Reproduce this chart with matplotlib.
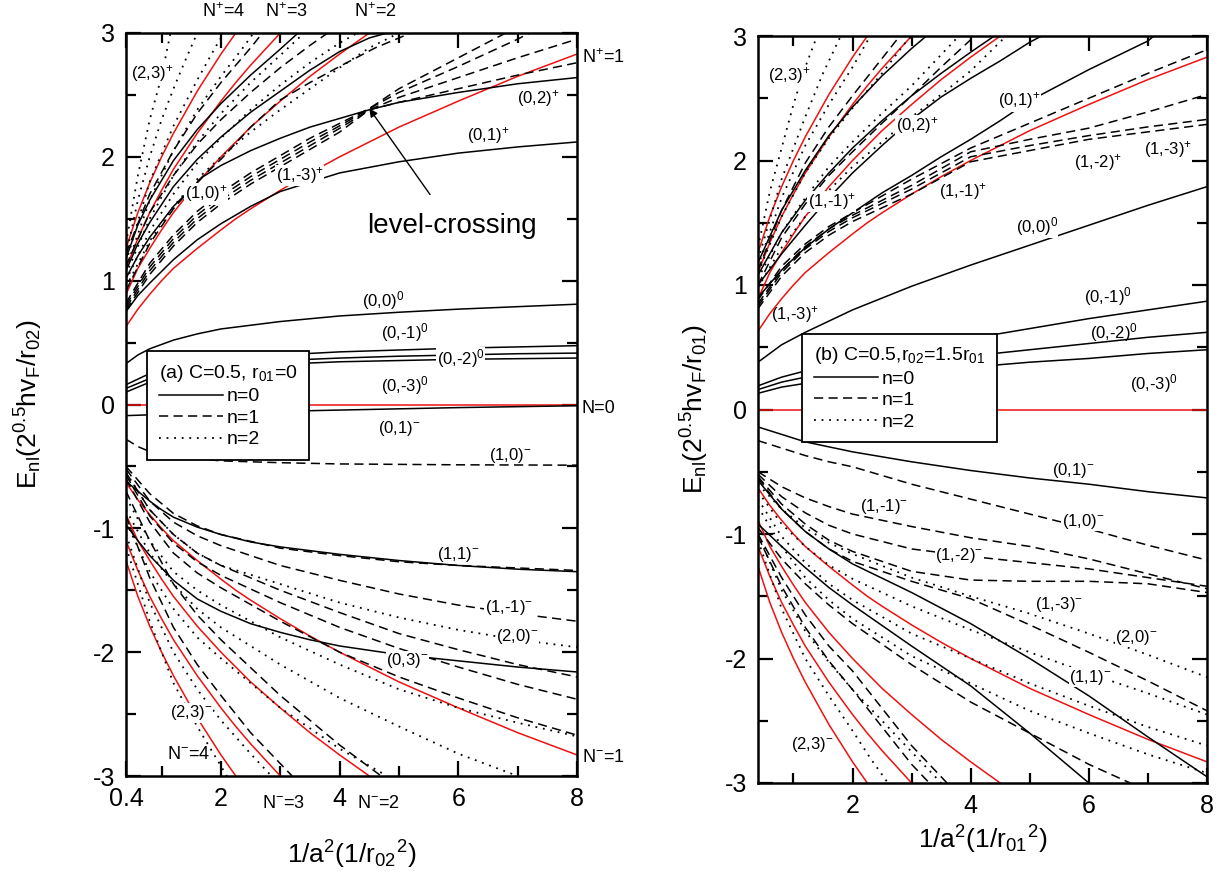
import matplotlib
matplotlib.use('Agg')
import matplotlib.pyplot as plt
from matplotlib.lines import Line2D
from matplotlib.ticker import FixedLocator

plt.rcParams['font.family'] = ['Liberation Sans', 'DejaVu Sans']
plt.rcParams['mathtext.fontset'] = 'custom'
plt.rcParams['mathtext.rm'] = 'Liberation Sans'
plt.rcParams['mathtext.it'] = 'Liberation Sans'
plt.rcParams['mathtext.default'] = 'regular'
plt.rcParams['axes.unicode_minus'] = False

# ---------------- Panel (a) data ----------------
# Landau levels (red)
A_red_x = [0.4, 0.6, 0.8, 1.0, 1.2, 1.6, 2.0, 2.25, 2.5, 3.0, 3.5, 4.0, 4.5, 5.0, 6.0, 7.0, 8.0]
A_red_N1 = [0.63, 0.77, 0.89, 1.0, 1.10, 1.26, 1.41, 1.50, 1.58, 1.73, 1.87, 2.0, 2.12, 2.24, 2.45, 2.65, 2.83]
A_red_N2 = [0.89, 1.10, 1.26, 1.41, 1.55, 1.79, 2.0, 2.12, 2.24, 2.45, 2.65, 2.83, 3.0]
A_red_N3 = [1.10, 1.34, 1.55, 1.73, 1.90, 2.19, 2.45, 2.60, 2.74, 3.0]
A_red_N4 = [1.26, 1.55, 1.79, 2.0, 2.19, 2.53, 2.83, 3.0]

# n = 0 (solid)
A_s00_x = [0.4, 0.6, 0.8, 1.2, 1.6, 2, 3, 4, 5, 6, 7, 8]
A_s00_y = [0.33, 0.40, 0.45, 0.52, 0.57, 0.61, 0.67, 0.715, 0.745, 0.77, 0.79, 0.81]
A_s0m_x = [0.4, 0.8, 1.2, 2, 3, 4, 5, 6, 7, 8]
A_s0m1_y = [0.16, 0.25, 0.30, 0.36, 0.40, 0.425, 0.44, 0.455, 0.465, 0.475]
A_s0m2_y = [0.13, 0.21, 0.26, 0.32, 0.355, 0.375, 0.39, 0.40, 0.41, 0.415]
A_s0m3_y = [0.10, 0.18, 0.23, 0.29, 0.325, 0.345, 0.355, 0.365, 0.37, 0.375]
A_s01m_x = [0.4, 1, 2, 4, 6, 8]
A_s01m_y = [-0.09, -0.08, -0.065, -0.045, -0.025, -0.01]
A_s11m_x = [0.4, 0.6, 0.8, 1.0, 1.2, 1.6, 2, 2.5, 3, 4, 5, 6, 7, 8]
A_s11m_y = [-0.62, -0.70, -0.78, -0.85, -0.91, -0.99, -1.05, -1.11, -1.15, -1.21, -1.26, -1.30, -1.33, -1.35]
A_s03m_x = [0.4, 0.6, 0.8, 1.0, 1.2, 1.6, 2, 2.5, 3, 3.5, 4, 5, 6, 7, 8]
A_s03m_y = [-0.97, -1.10, -1.22, -1.32, -1.42, -1.57, -1.67, -1.77, -1.84, -1.90, -1.95, -2.02, -2.07, -2.12, -2.16]
A_s01p_x = [0.4, 0.6, 0.8, 1.2, 1.6, 2, 2.5, 3, 4, 5, 6, 7, 8]
A_s01p_y = [0.75, 0.88, 0.98, 1.17, 1.33, 1.46, 1.60, 1.72, 1.87, 1.96, 2.03, 2.08, 2.12]
A_s02p_x = [0.4, 0.6, 0.8, 1.2, 1.7, 2, 2.5, 3, 3.5, 4, 4.5, 5, 6, 7, 8]
A_s02p_y = [1.02, 1.20, 1.35, 1.60, 1.84, 1.93, 2.05, 2.15, 2.24, 2.31, 2.38, 2.44, 2.52, 2.59, 2.64]
A_s03p_x = [0.4, 0.6, 0.8, 1.2, 1.6, 2, 2.5, 3, 3.5, 4, 4.5, 4.8]
A_s03p_y = [1.08, 1.30, 1.47, 1.76, 1.98, 2.16, 2.36, 2.53, 2.70, 2.85, 2.96, 3.0]
A_s04p_x = [0.4, 0.6, 0.8, 1.2, 1.6, 2, 2.5, 3, 3.3]
A_s04p_y = [1.18, 1.45, 1.65, 1.97, 2.22, 2.43, 2.66, 2.87, 3.0]

# n = 1 (dashed)
A_dxg = [0.4, 0.8, 1.2, 1.6, 2, 2.5, 3, 3.5, 4, 4.5, 5, 6, 7, 8]
A_d1_y = [0.76, 1.05, 1.28, 1.47, 1.62, 1.78, 1.92, 2.06, 2.20, 2.38, 2.44, 2.55, 2.66, 2.76]
A_d2_y = [0.78, 1.08, 1.31, 1.50, 1.65, 1.81, 1.95, 2.09, 2.23, 2.38, 2.48, 2.64, 2.80, 2.95]
A_d3_x = [0.4, 0.8, 1.2, 1.6, 2, 2.5, 3, 3.5, 4, 4.5, 5, 6, 7, 7.2]
A_d3_y = [0.80, 1.11, 1.34, 1.53, 1.68, 1.84, 1.98, 2.12, 2.25, 2.39, 2.52, 2.73, 2.95, 3.0]
A_d4_x = [0.4, 0.8, 1.2, 1.6, 2, 2.5, 3, 3.5, 4, 4.5, 5, 6, 6.8]
A_d4_y = [0.82, 1.14, 1.37, 1.56, 1.71, 1.87, 2.01, 2.15, 2.27, 2.39, 2.55, 2.80, 3.0]
A_d5_x = [0.4, 0.8, 1.2, 1.6, 2, 2.5, 3, 3.5, 4, 4.6, 5.2]
A_d5_y = [0.92, 1.30, 1.58, 1.80, 1.98, 2.24, 2.46, 2.60, 2.73, 2.88, 3.0]
A_d6_x = [0.4, 0.8, 1.2, 1.6, 2, 2.5, 3, 3.5, 3.8]
A_d6_y = [1.12, 1.55, 1.85, 2.10, 2.30, 2.52, 2.72, 2.90, 3.0]
A_d7_x = [0.4, 0.8, 1.2, 1.6, 2, 2.5, 2.7]
A_d7_y = [1.22, 1.70, 2.05, 2.35, 2.60, 2.88, 3.0]
A_dn_x = [0.4, 0.8, 1.2, 1.6, 2, 3, 4, 5, 6, 7, 8]
A_dn1_y = [-0.50, -0.72, -0.88, -0.98, -1.05, -1.16, -1.22, -1.27, -1.30, -1.32, -1.34]
A_dn2_y = [-0.52, -0.78, -0.95, -1.06, -1.14, -1.30, -1.42, -1.53, -1.62, -1.69, -1.75]
A_dn3_y = [-0.55, -0.85, -1.05, -1.20, -1.30, -1.50, -1.68, -1.85, -1.98, -2.10, -2.20]
A_dn4_y = [-0.57, -0.90, -1.12, -1.27, -1.38, -1.60, -1.80, -1.97, -2.12, -2.26, -2.38]
A_dn5_y = [-0.60, -0.95, -1.20, -1.36, -1.48, -1.75, -2.00, -2.20, -2.37, -2.53, -2.67]
A_dn6_x = [0.4, 0.8, 1.2, 1.6, 2, 3, 4, 4.7]
A_dn6_y = [-0.70, -1.10, -1.45, -1.70, -1.90, -2.35, -2.75, -3.0]
A_dn7_x = [0.4, 0.8, 1.2, 1.6, 2, 2.5, 3.2]
A_dn7_y = [-0.90, -1.40, -1.80, -2.10, -2.35, -2.65, -3.0]
A_d10_x = [0.4, 0.6, 0.8, 1.2, 2, 3, 4, 6, 8]
A_d10_y = [-0.28, -0.34, -0.38, -0.42, -0.455, -0.47, -0.48, -0.487, -0.49]

# n = 2 (dotted)
A_t1_x = [0.4, 0.8, 1.2, 1.6, 2, 2.5, 3, 3.5, 4, 4.3]
A_t1_y = [1.00, 1.40, 1.70, 1.95, 2.15, 2.38, 2.58, 2.76, 2.92, 3.0]
A_t2_x = [0.4, 0.8, 1.2, 1.6, 2, 2.5, 3, 3.4]
A_t2_y = [1.05, 1.50, 1.85, 2.12, 2.35, 2.60, 2.82, 3.0]
A_t3_x = [0.4, 0.8, 1.2, 1.6, 2, 2.4, 2.55]
A_t3_y = [1.10, 1.65, 2.05, 2.38, 2.65, 2.90, 3.0]
A_t4_x = [0.4, 0.8, 1.2, 1.6, 1.9, 2.05]
A_t4_y = [1.15, 1.80, 2.25, 2.62, 2.88, 3.0]
A_t5_x = [0.4, 0.6, 0.8, 1.0, 1.2, 1.4, 1.6]
A_t5_y = [1.20, 1.65, 2.00, 2.30, 2.55, 2.78, 3.0]
A_t6_x = [0.4, 0.6, 0.8, 1.0, 1.15]
A_t6_y = [1.30, 1.85, 2.30, 2.65, 3.0]
A_t7_x = [0.4, 0.8, 1.2, 1.6, 2, 2.5, 3, 3.5, 4, 4.5, 5]
A_t7_y = [0.95, 1.32, 1.60, 1.82, 2.00, 2.20, 2.38, 2.55, 2.72, 2.88, 3.0]
A_tn1_y = [-0.55, -0.85, -1.05, -1.20, -1.30, -1.45, -1.60, -1.72, -1.82, -1.90, -1.96]
A_tn2_y = [-0.75, -1.10, -1.35, -1.50, -1.62, -1.88, -2.10, -2.30, -2.45, -2.57, -2.68]
A_tn3_x = [0.4, 0.8, 1.2, 1.6, 2, 3, 4, 5, 6, 7]
A_tn3_y = [-0.85, -1.20, -1.45, -1.65, -1.80, -2.10, -2.37, -2.60, -2.82, -3.0]
A_tn4_x = [0.4, 0.8, 1.2, 1.6, 2, 3, 4, 4.8]
A_tn4_y = [-0.95, -1.35, -1.65, -1.88, -2.05, -2.45, -2.78, -3.0]
A_tn5_x = [0.4, 0.8, 1.2, 1.6, 2, 2.5, 2.85]
A_tn5_y = [-1.05, -1.60, -2.00, -2.30, -2.55, -2.82, -3.0]
A_tn6_x = [0.4, 0.8, 1.2, 1.6, 2.0, 2.1]
A_tn6_y = [-1.15, -1.75, -2.25, -2.60, -2.92, -3.0]

# ---------------- Panel (b) data ----------------
B_red_x = A_red_x
B_red_N1 = A_red_N1
B_red_N2 = A_red_N2
B_red_N3 = A_red_N3
B_red_N4 = A_red_N4

B_g = [0.4, 0.8, 1.2, 1.6, 2, 3, 4, 5, 6, 7, 8]
B_s00_y = [0.38, 0.52, 0.62, 0.71, 0.80, 0.99, 1.16, 1.32, 1.48, 1.64, 1.79]
B_s0m1_y = [0.19, 0.26, 0.31, 0.35, 0.39, 0.48, 0.57, 0.65, 0.73, 0.80, 0.87]
B_s0m2_y = [0.16, 0.22, 0.26, 0.29, 0.31, 0.37, 0.43, 0.48, 0.53, 0.58, 0.62]
B_s0m3_y = [0.13, 0.18, 0.21, 0.23, 0.25, 0.30, 0.34, 0.38, 0.41, 0.45, 0.48]
B_s01m_y = [-0.14, -0.20, -0.26, -0.30, -0.34, -0.42, -0.49, -0.55, -0.60, -0.66, -0.71]
B_s1_y = [-0.57, -0.80, -0.98, -1.12, -1.24, -1.47, -1.72, -2.00, -2.30, -2.63, -2.95]
B_s2_x = [0.4, 0.8, 1.2, 1.6, 2, 3, 4, 5, 6]
B_s2_y = [-0.92, -1.10, -1.27, -1.43, -1.57, -1.90, -2.22, -2.60, -3.0]
B_s01p_x = [0.4, 0.8, 1.2, 1.6, 2, 2.5, 3, 3.5, 4, 4.5, 5, 6, 7, 7.1]
B_s01p_y = [0.90, 1.12, 1.30, 1.45, 1.58, 1.74, 1.88, 2.03, 2.17, 2.32, 2.48, 2.73, 2.96, 3.0]
B_s02p_x = [0.4, 0.8, 1.2, 1.6, 2, 2.5, 3, 3.5, 4, 4.5, 5, 5.2]
B_s02p_y = [1.00, 1.25, 1.48, 1.70, 1.90, 2.12, 2.33, 2.51, 2.66, 2.80, 2.95, 3.0]
B_s03p_x = [0.4, 0.8, 1.2, 1.6, 2, 2.5, 3, 3.5, 4, 4.4]
B_s03p_y = [1.08, 1.42, 1.68, 1.90, 2.10, 2.32, 2.52, 2.70, 2.87, 3.0]
B_s04p_x = [0.4, 0.8, 1.2, 1.6, 2, 2.5, 3, 3.25]
B_s04p_y = [1.18, 1.60, 1.92, 2.20, 2.43, 2.68, 2.90, 3.0]

B_d11p_y = [0.88, 1.15, 1.33, 1.47, 1.58, 1.85, 2.10, 2.30, 2.50, 2.70, 2.89]
B_d12p_y = [0.85, 1.12, 1.31, 1.45, 1.56, 1.80, 2.07, 2.17, 2.26, 2.39, 2.53]
B_d13a_y = [0.83, 1.10, 1.29, 1.43, 1.54, 1.77, 2.03, 2.12, 2.20, 2.27, 2.33]
B_d13b_y = [0.81, 1.07, 1.26, 1.40, 1.51, 1.73, 1.99, 2.08, 2.17, 2.23, 2.29]
B_d5_x = [0.4, 0.8, 1.2, 1.6, 2, 2.5, 3, 3.5, 4, 4.1]
B_d5_y = [1.00, 1.38, 1.65, 1.88, 2.07, 2.30, 2.52, 2.75, 2.97, 3.0]
B_d6_x = [0.4, 0.8, 1.2, 1.6, 2, 2.5, 2.8]
B_d6_y = [1.12, 1.60, 1.98, 2.27, 2.52, 2.82, 3.0]
B_d10m_y = [-0.25, -0.31, -0.37, -0.42, -0.46, -0.60, -0.72, -0.84, -0.96, -1.09, -1.21]
B_d11m_y = [-0.50, -0.62, -0.71, -0.78, -0.84, -0.94, -1.03, -1.10, -1.20, -1.32, -1.44]
B_d12m_y = [-0.52, -0.70, -0.83, -0.93, -1.00, -1.12, -1.18, -1.23, -1.28, -1.35, -1.42]
B_d13m_y = [-0.54, -0.76, -0.92, -1.05, -1.14, -1.30, -1.37, -1.38, -1.38, -1.40, -1.47]
B_dn1_y = [-0.55, -0.80, -0.98, -1.12, -1.22, -1.38, -1.52, -1.73, -1.95, -2.18, -2.42]
B_dn2_x = [0.4, 0.8, 1.2, 1.6, 2, 3, 4, 5, 6, 6.7]
B_dn2_y = [-0.95, -1.20, -1.40, -1.57, -1.72, -2.05, -2.35, -2.60, -2.85, -3.0]
B_dn3_x = [0.4, 0.8, 1.2, 1.6, 2, 2.5, 3, 3.6]
B_dn3_y = [-1.00, -1.35, -1.65, -1.90, -2.10, -2.40, -2.70, -3.0]
B_dn4_x = [0.4, 0.8, 1.2, 1.6, 2, 2.5, 3.0, 3.3]
B_dn4_y = [-1.02, -1.42, -1.75, -2.02, -2.25, -2.55, -2.85, -3.0]

B_t1_x = [0.4, 0.8, 1.2, 1.6, 2, 2.5, 3, 3.5, 4, 4.6]
B_t1_y = [0.98, 1.30, 1.55, 1.76, 1.95, 2.15, 2.35, 2.53, 2.72, 3.0]
B_t2_x = [0.4, 0.8, 1.2, 1.6, 2, 2.5, 3, 3.5, 3.8]
B_t2_y = [1.05, 1.42, 1.70, 1.95, 2.15, 2.38, 2.60, 2.85, 3.0]
B_t3_x = [0.4, 0.8, 1.2, 1.6, 2, 2.5, 2.9, 3.0]
B_t3_y = [1.10, 1.55, 1.90, 2.18, 2.42, 2.70, 2.95, 3.0]
B_t4_x = [0.4, 0.8, 1.2, 1.6, 2, 2.3]
B_t4_y = [1.15, 1.70, 2.12, 2.45, 2.75, 3.0]
B_t5_x = [0.4, 0.8, 1.2, 1.5, 1.8]
B_t5_y = [1.20, 1.85, 2.35, 2.70, 3.0]
B_t6_x = [0.4, 0.6, 0.8, 1.0, 1.2, 1.4]
B_t6_y = [1.30, 1.75, 2.10, 2.45, 2.75, 3.0]
B_tn1_y = [-0.60, -0.80, -0.95, -1.07, -1.16, -1.35, -1.50, -1.64, -1.80, -1.97, -2.15]
B_tn2_y = [-0.66, -0.92, -1.10, -1.25, -1.36, -1.58, -1.77, -1.95, -2.12, -2.28, -2.45]
B_tn3_y = [-0.72, -1.02, -1.23, -1.40, -1.53, -1.80, -2.00, -2.20, -2.38, -2.55, -2.70]
B_tn4_y = [-0.78, -1.10, -1.35, -1.53, -1.68, -1.98, -2.20, -2.42, -2.60, -2.77, -2.92]
B_tn5_x = [0.4, 0.8, 1.2, 1.6, 2, 2.5, 3, 3.5]
B_tn5_y = [-1.00, -1.45, -1.78, -2.03, -2.25, -2.50, -2.75, -3.0]
B_tn6_x = [0.4, 0.8, 1.2, 1.6, 2, 2.3, 2.6]
B_tn6_y = [-1.05, -1.60, -2.00, -2.30, -2.58, -2.80, -3.0]

# ---------------- drawing ----------------
RED = '#ee1111'
LW = 1.1
DASH = (0, (6, 3.5))
DOT = (0, (1, 3.2))

fig = plt.figure(figsize=(12.24, 8.83), dpi=100)
axA = fig.add_axes([126/1224, 1-776/883, 451/1224, 743/883])
axB = fig.add_axes([758/1224, 1-783/883, 449/1224, 747/883])


def neg(v):
    return [-a for a in v]


def draw_red(ax, x, n1, n2, n3, n4):
    ax.axhline(0, color=RED, lw=LW, zorder=2)
    for ys in (n1, n2, n3, n4):
        xs = x[:len(ys)]
        ax.plot(xs, ys, color=RED, lw=LW, zorder=2)
        ax.plot(xs, neg(ys), color=RED, lw=LW, zorder=2)


def line(ax, x, y, ls):
    lw = 1.3 if ls == DOT else LW
    ax.plot(x[:len(y)], y, color='black', lw=lw, linestyle=ls, zorder=3)


# panel a
draw_red(axA, A_red_x, A_red_N1, A_red_N2, A_red_N3, A_red_N4)
for x, y in [(A_s00_x, A_s00_y), (A_s0m_x, A_s0m1_y), (A_s0m_x, A_s0m2_y), (A_s0m_x, A_s0m3_y),
             (A_s01m_x, A_s01m_y), (A_s11m_x, A_s11m_y), (A_s03m_x, A_s03m_y),
             (A_s01p_x, A_s01p_y), (A_s02p_x, A_s02p_y), (A_s03p_x, A_s03p_y), (A_s04p_x, A_s04p_y)]:
    line(axA, x, y, '-')
for x, y in [(A_dxg, A_d1_y), (A_dxg, A_d2_y), (A_d3_x, A_d3_y), (A_d4_x, A_d4_y),
             (A_d5_x, A_d5_y), (A_d6_x, A_d6_y), (A_d7_x, A_d7_y),
             (A_dn_x, A_dn1_y), (A_dn_x, A_dn2_y), (A_dn_x, A_dn3_y), (A_dn_x, A_dn4_y),
             (A_dn_x, A_dn5_y), (A_dn6_x, A_dn6_y), (A_dn7_x, A_dn7_y), (A_d10_x, A_d10_y)]:
    line(axA, x, y, DASH)
for x, y in [(A_t1_x, A_t1_y), (A_t2_x, A_t2_y), (A_t3_x, A_t3_y), (A_t4_x, A_t4_y),
             (A_t5_x, A_t5_y), (A_t6_x, A_t6_y), (A_t7_x, A_t7_y),
             (A_dn_x, A_tn1_y), (A_dn_x, A_tn2_y), (A_tn3_x, A_tn3_y), (A_tn4_x, A_tn4_y),
             (A_tn5_x, A_tn5_y), (A_tn6_x, A_tn6_y)]:
    line(axA, x, y, DOT)

# panel b
draw_red(axB, B_red_x, B_red_N1, B_red_N2, B_red_N3, B_red_N4)
for x, y in [(B_g, B_s00_y), (B_g, B_s0m1_y), (B_g, B_s0m2_y), (B_g, B_s0m3_y), (B_g, B_s01m_y),
             (B_g, B_s1_y), (B_s2_x, B_s2_y), (B_s01p_x, B_s01p_y), (B_s02p_x, B_s02p_y),
             (B_s03p_x, B_s03p_y), (B_s04p_x, B_s04p_y)]:
    line(axB, x, y, '-')
for x, y in [(B_g, B_d11p_y), (B_g, B_d12p_y), (B_g, B_d13a_y), (B_g, B_d13b_y),
             (B_d5_x, B_d5_y), (B_d6_x, B_d6_y), (B_g, B_d10m_y), (B_g, B_d11m_y),
             (B_g, B_d12m_y), (B_g, B_d13m_y), (B_g, B_dn1_y), (B_dn2_x, B_dn2_y),
             (B_dn3_x, B_dn3_y), (B_dn4_x, B_dn4_y)]:
    line(axB, x, y, DASH)
for x, y in [(B_t1_x, B_t1_y), (B_t2_x, B_t2_y), (B_t3_x, B_t3_y), (B_t4_x, B_t4_y),
             (B_t5_x, B_t5_y), (B_t6_x, B_t6_y), (B_g, B_tn1_y), (B_g, B_tn2_y),
             (B_g, B_tn3_y), (B_g, B_tn4_y), (B_tn5_x, B_tn5_y), (B_tn6_x, B_tn6_y)]:
    line(axB, x, y, DOT)

# axes styling
for ax in (axA, axB):
    ax.set_xlim(0.4, 8)
    ax.set_ylim(-3, 3)
    ax.yaxis.set_major_locator(FixedLocator([-3, -2, -1, 0, 1, 2, 3]))
    ax.yaxis.set_minor_locator(FixedLocator([-2.5, -1.5, -0.5, 0.5, 1.5, 2.5]))
    ax.xaxis.set_minor_locator(FixedLocator([1, 3, 5, 7]))
    ax.tick_params(which='both', direction='in', top=True, right=True, width=1.6, labelsize=18, pad=8)
    ax.tick_params(which='major', length=11)
    ax.tick_params(which='minor', length=7)
    for s in ax.spines.values():
        s.set_linewidth(1.8)
axA.xaxis.set_major_locator(FixedLocator([0.4, 2, 4, 6, 8]))
axA.set_xticklabels(['0.4', '2', '4', '6', '8'])
axB.xaxis.set_major_locator(FixedLocator([2, 4, 6, 8]))
axB.set_xticklabels(['2', '4', '6', '8'])

axA.set_ylabel(r'E$_{nl}$(2$^{0.5}$hv$_F$/r$_{02}$)', fontsize=19, labelpad=34)
axB.set_ylabel(r'E$_{nl}$(2$^{0.5}$hv$_F$/r$_{01}$)', fontsize=19, labelpad=10)
axA.set_xlabel(r'1/a$^2$(1/r$_{02}$$^2$)', fontsize=19, labelpad=20)
axB.set_xlabel(r'1/a$^2$(1/r$_{01}$$^2$)', fontsize=19, labelpad=4)

# legends
handles = [Line2D([], [], color='black', lw=LW, ls='-'),
           Line2D([], [], color='black', lw=LW, ls=DASH),
           Line2D([], [], color='black', lw=1.3, ls=DOT)]
for ax, title, anchor in [(axA, r'(a) C=0.5, r$_{01}$=0', (0.76, 0.43)),
                          (axB, r'(b) C=0.5,r$_{02}$=1.5r$_{01}$', (1.15, 0.61))]:
    leg = ax.legend(handles, ['n=0', 'n=1', 'n=2'], title=title, loc='upper left',
                    bbox_to_anchor=anchor, bbox_transform=ax.transData, fontsize=14,
                    title_fontsize=14, fancybox=False, framealpha=1, edgecolor='black',
                    handlelength=3.3, handletextpad=0.2, labelspacing=0.2,
                    borderaxespad=0, borderpad=0.6)
    leg._legend_box.align = 'left'
    leg.get_frame().set_linewidth(1.3)
    leg.set_zorder(5)

FS = 12
bb = dict(facecolor='white', edgecolor='none', pad=0.3)


def lab(ax, x, y, s, fs=FS, ha='center', box=True):
    ax.text(x, y, s, fontsize=fs, ha=ha, va='center', zorder=6, clip_on=False,
            bbox=bb if box else None)


# panel a labels
NF = 13
lab(axA, 2.05, 3.17, r'N$^{+}$=4', fs=NF, box=False)
lab(axA, 3.1, 3.17, r'N$^{+}$=3', fs=NF, box=False)
lab(axA, 4.6, 3.17, r'N$^{+}$=2', fs=NF, box=False)
lab(axA, 8.08, 2.8, r'N$^{+}$=1', fs=NF, ha='left', box=False)
lab(axA, 8.08, -0.03, 'N=0', fs=NF, ha='left', box=False)
lab(axA, 8.08, -2.85, r'N$^{-}$=1', fs=NF, ha='left', box=False)
lab(axA, 1.45, -2.83, r'N$^{-}$=4', fs=NF, box=False)
lab(axA, 3.05, -3.22, r'N$^{-}$=3', fs=NF, box=False)
lab(axA, 4.65, -3.22, r'N$^{-}$=2', fs=NF, box=False)
lab(axA, 0.85, 2.67, r'(2,3)$^{+}$')
lab(axA, 1.75, 1.7, r'(1,0)$^{+}$')
lab(axA, 3.33, 1.85, r'(1,-3)$^{+}$')
lab(axA, 6.5, 2.17, r'(0,1)$^{+}$', box=False)
lab(axA, 7.35, 2.47, r'(0,2)$^{+}$', box=False)
lab(axA, 4.74, 0.84, r'(0,0)$^{0}$', box=False)
lab(axA, 5.1, 0.58, r'(0,-1)$^{0}$', box=False)
lab(axA, 6.04, 0.37, r'(0,-2)$^{0}$')
lab(axA, 5.1, 0.15, r'(0,-3)$^{0}$', box=False)
lab(axA, 5.0, -0.19, r'(0,1)$^{-}$', box=False)
lab(axA, 6.88, -0.41, r'(1,0)$^{-}$', box=False)
lab(axA, 6.0, -1.21, r'(1,1)$^{-}$', box=False)
lab(axA, 6.85, -1.64, r'(1,-1)$^{-}$')
lab(axA, 7.0, -1.87, r'(2,0)$^{-}$')
lab(axA, 5.14, -2.07, r'(0,3)$^{-}$')
lab(axA, 1.5, -2.49, r'(2,3)$^{-}$')
axA.annotate('level-crossing', xy=(4.5, 2.39), xytext=(5.9, 1.44), fontsize=20,
             ha='center', va='center', zorder=6,
             arrowprops=dict(arrowstyle='-|>', color='black', lw=1.0,
                             shrinkA=14, shrinkB=0, mutation_scale=12))

# panel b labels
lab(axB, 0.93, 2.68, r'(2,3)$^{+}$')
lab(axB, 4.82, 2.48, r'(0,1)$^{+}$')
lab(axB, 3.09, 2.28, r'(0,2)$^{+}$')
lab(axB, 1.65, 1.67, r'(1,-1)$^{+}$')
lab(axB, 3.87, 1.75, r'(1,-1)$^{+}$', box=False)
lab(axB, 6.16, 1.98, r'(1,-2)$^{+}$', box=False)
lab(axB, 7.34, 2.09, r'(1,-3)$^{+}$', box=False)
lab(axB, 5.12, 1.47, r'(0,0)$^{0}$')
lab(axB, 1.03, 0.76, r'(1,-3)$^{+}$', box=False)
lab(axB, 6.32, 0.91, r'(0,-1)$^{0}$', box=False)
lab(axB, 6.42, 0.62, r'(0,-2)$^{0}$', box=False)
lab(axB, 7.11, 0.21, r'(0,-3)$^{0}$', box=False)
lab(axB, 5.74, -0.49, r'(0,1)$^{-}$', box=False)
lab(axB, 2.53, -0.78, r'(1,-1)$^{-}$', box=False)
lab(axB, 5.9, -0.9, r'(1,0)$^{-}$')
lab(axB, 3.81, -1.17, r'(1,-2)$^{-}$')
lab(axB, 5.5, -1.57, r'(1,-3)$^{-}$')
lab(axB, 6.81, -1.83, r'(2,0)$^{-}$')
lab(axB, 6.03, -2.15, r'(1,1)$^{-}$')
lab(axB, 1.32, -2.69, r'(2,3)$^{-}$', box=False)

fig.savefig('out.png', dpi=100)
